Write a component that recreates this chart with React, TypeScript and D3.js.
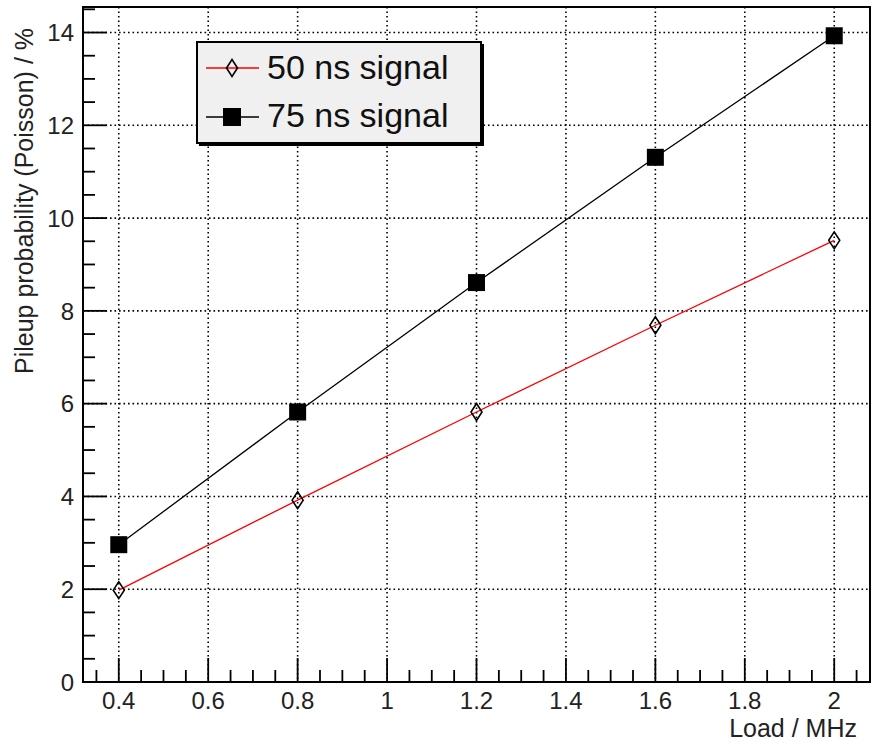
import React from "react";
import * as d3 from "d3";

const loads = [0.4, 0.8, 1.2, 1.6, 2.0];
const pileup50 = [1.98, 3.92, 5.82, 7.69, 9.52];
const pileup75 = [2.96, 5.82, 8.61, 11.31, 13.93];
const xTicks = [0.4, 0.6, 0.8, 1, 1.2, 1.4, 1.6, 1.8, 2];
const yTicks = [0, 2, 4, 6, 8, 10, 12, 14];
const seriesNames = ["50 ns signal", "75 ns signal"];

const W = 877, H = 747;
const L = 83, R = 870, T = 7, B = 682;
const FONT = "'Liberation Sans', Arial, Helvetica, sans-serif";

export default function App() {
  const x = d3.scaleLinear().domain([0.32, 2.08]).range([L, R]);
  const y = d3.scaleLinear().domain([0, 14.55]).range([B, T]);
  const line = d3.line<number>().x((_, i) => x(loads[i])).y((d) => y(d));

  const xMinor = d3.range(0.35, 2.08, 0.05).filter((v) => Math.abs(Math.round(v * 5) - v * 5) > 1e-6);
  const yMinor = d3.range(0.5, 14.55, 0.5).filter((v) => Math.abs(Math.round(v / 2) - v / 2) > 1e-6);

  const diamond = (cx: number, cy: number, w = 5.5, h = 8.5) =>
    `M${cx},${cy - h}L${cx + w},${cy}L${cx},${cy + h}L${cx - w},${cy}Z`;

  return (
    <svg width={W} height={H} style={{ position: "absolute", left: 0, top: 0, background: "#fff" }} fontFamily={FONT}>
      {/* grid */}
      <g stroke="#000" strokeWidth={1.6} strokeDasharray="1.6,2.9">
        {xTicks.map((t) => (
          <line key={"gx" + t} x1={x(t)} x2={x(t)} y1={T} y2={B} />
        ))}
        {yTicks.filter((t) => t > 0).map((t) => (
          <line key={"gy" + t} x1={L} x2={R} y1={y(t)} y2={y(t)} />
        ))}
      </g>
      {/* ticks */}
      <g stroke="#000" strokeWidth={1.8}>
        {xTicks.map((t) => (
          <line key={"tx" + t} x1={x(t)} x2={x(t)} y1={B} y2={B - 24} />
        ))}
        {xMinor.map((t) => (
          <line key={"mx" + t} x1={x(t)} x2={x(t)} y1={B} y2={B - 12} />
        ))}
        {yTicks.map((t) => (
          <line key={"ty" + t} x1={L} x2={L + 24} y1={y(t)} y2={y(t)} />
        ))}
        {yMinor.map((t) => (
          <line key={"my" + t} x1={L} x2={L + 12} y1={y(t)} y2={y(t)} />
        ))}
      </g>
      {/* frame */}
      <rect x={L} y={T} width={R - L} height={B - T} fill="none" stroke="#000" strokeWidth={2} />
      {/* tick labels */}
      <g fontSize={24} fill="#222">
        {xTicks.map((t) => (
          <text key={"lx" + t} x={x(t)} y={B + 27} textAnchor="middle">{d3.format("~g")(t)}</text>
        ))}
        {yTicks.map((t) => (
          <text key={"ly" + t} x={74} y={y(t)} dy="0.36em" textAnchor="end">{t}</text>
        ))}
      </g>
      {/* axis titles */}
      <text x={857} y={737} fontSize={25} textAnchor="end" fill="#222">Load / MHz</text>
      <text transform="translate(33,28) rotate(-90)" fontSize={25} textAnchor="end" fill="#222">
        Pileup probability (Poisson) / %
      </text>
      {/* series */}
      <path d={line(pileup50) || ""} fill="none" stroke="#ff0000" strokeWidth={1.3} />
      <path d={line(pileup75) || ""} fill="none" stroke="#000" strokeWidth={1.3} />
      {pileup50.map((v, i) => (
        <path key={"d" + i} d={diamond(x(loads[i]), y(v))} fill="none" stroke="#000" strokeWidth={1.6} />
      ))}
      {pileup75.map((v, i) => (
        <rect key={"s" + i} x={x(loads[i]) - 8.5} y={y(v) - 8.5} width={17} height={17} fill="#000" />
      ))}
      {/* legend */}
      <rect x={199} y={44} width={285} height={102} fill="#000" />
      <rect x={197} y={42} width={284} height={101} fill="#f0f0f0" stroke="#000" strokeWidth={2} />
      <line x1={206} x2={259} y1={68} y2={68} stroke="#ff0000" strokeWidth={1.3} />
      <path d={diamond(232, 68)} fill="none" stroke="#000" strokeWidth={1.6} />
      <line x1={206} x2={259} y1={117} y2={117} stroke="#000" strokeWidth={1.3} />
      <rect x={232 - 9} y={117 - 9} width={18} height={18} fill="#000" />
      <text x={267} y={79} fontSize={34} fill="#111">{seriesNames[0]}</text>
      <text x={267} y={127} fontSize={34} fill="#111">{seriesNames[1]}</text>
    </svg>
  );
}
